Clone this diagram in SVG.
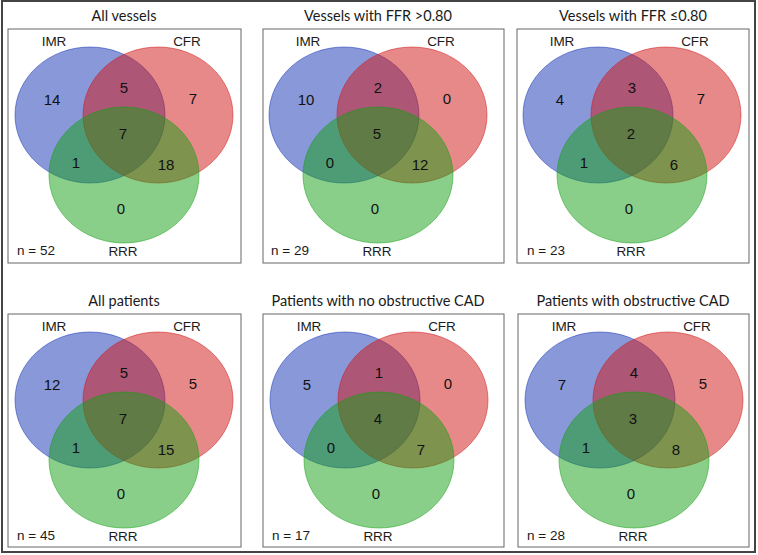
<svg xmlns="http://www.w3.org/2000/svg" width="758" height="555" viewBox="0 0 758 555">
<style>
.frame{fill:none;stroke:#444;stroke-width:2}
.box{fill:none;stroke:#666;stroke-width:1}
.title{font-family:Lato,"Liberation Sans",sans-serif;font-size:14.5px;fill:#1a1a1a;text-anchor:middle}
.lab{font-family:"Liberation Sans",Arial,sans-serif;font-size:13.5px;fill:#1a1a1a;text-anchor:middle}
.n{font-family:"Liberation Sans",Arial,sans-serif;font-size:13.5px;fill:#1a1a1a}
.num{font-family:"Liberation Sans",Arial,sans-serif;font-size:15px;fill:#111;text-anchor:middle}
.b{fill:rgb(20,50,180);fill-opacity:.5;stroke:rgb(20,50,180);stroke-opacity:.5;stroke-width:1}
.r{fill:rgb(210,20,20);fill-opacity:.5;stroke:rgb(210,20,20);stroke-opacity:.5;stroke-width:1}
.g{fill:rgb(20,160,20);fill-opacity:.5;stroke:rgb(20,160,20);stroke-opacity:.5;stroke-width:1}
</style>
<defs>
<g id="venn">
<ellipse class="b" cx="90" cy="115" rx="75" ry="68"/>
<ellipse class="r" cx="158" cy="115" rx="75" ry="68"/>
<ellipse class="g" cx="124" cy="175" rx="75" ry="68"/>
<text class="lab" x="54" y="46">IMR</text>
<text class="lab" x="187" y="46">CFR</text>
<text class="lab" x="123" y="256">RRR</text>
</g>
</defs>
<rect class="frame" x="2" y="1" width="753" height="551"/>
<g id="panel-all-vessels">
<rect class="box" x="8" y="29" width="233" height="234"/>
<text class="title" x="124" y="21">All vessels</text>
<use href="#venn"/>
<text class="num" x="52" y="105">14</text>
<text class="num" x="124" y="93">5</text>
<text class="num" x="193" y="104">7</text>
<text class="num" x="123" y="139">7</text>
<text class="num" x="76" y="168">1</text>
<text class="num" x="166" y="170">18</text>
<text class="num" x="121" y="214">0</text>
<text class="n" x="17" y="255">n = 52</text>
</g>
<g id="panel-ffr-gt" transform="translate(254,0)">
<rect class="box" x="9" y="29" width="241" height="234"/>
<text class="title" x="124" y="21">Vessels with FFR &gt;0.80</text>
<use href="#venn"/>
<text class="num" x="52" y="105">10</text>
<text class="num" x="124" y="93">2</text>
<text class="num" x="193" y="104">0</text>
<text class="num" x="123" y="139">5</text>
<text class="num" x="76" y="168">0</text>
<text class="num" x="166" y="170">12</text>
<text class="num" x="121" y="214">0</text>
<text class="n" x="17" y="255">n = 29</text>
</g>
<g id="panel-ffr-le" transform="translate(508,0)">
<rect class="box" x="9" y="29" width="232" height="234"/>
<text class="title" x="125" y="21">Vessels with FFR ≤0.80</text>
<use href="#venn"/>
<text class="num" x="52" y="105">4</text>
<text class="num" x="124" y="93">3</text>
<text class="num" x="193" y="104">7</text>
<text class="num" x="123" y="139">2</text>
<text class="num" x="76" y="168">1</text>
<text class="num" x="166" y="170">6</text>
<text class="num" x="121" y="214">0</text>
<text class="n" x="19" y="255">n = 23</text>
</g>
<g id="panel-all-patients" transform="translate(0,285)">
<rect class="box" x="8" y="29" width="233" height="233"/>
<text class="title" x="124" y="21">All patients</text>
<use href="#venn"/>
<text class="num" x="52" y="105">12</text>
<text class="num" x="124" y="93">5</text>
<text class="num" x="193" y="104">5</text>
<text class="num" x="123" y="139">7</text>
<text class="num" x="76" y="168">1</text>
<text class="num" x="166" y="170">15</text>
<text class="num" x="121" y="214">0</text>
<text class="n" x="17" y="255">n = 45</text>
</g>
<g id="panel-no-cad" transform="translate(255,285)">
<rect class="box" x="8" y="29" width="241" height="233"/>
<text class="title" x="123" y="21">Patients with no obstructive CAD</text>
<use href="#venn"/>
<text class="num" x="52" y="105">5</text>
<text class="num" x="124" y="93">1</text>
<text class="num" x="193" y="104">0</text>
<text class="num" x="123" y="139">4</text>
<text class="num" x="76" y="168">0</text>
<text class="num" x="166" y="170">7</text>
<text class="num" x="121" y="214">0</text>
<text class="n" x="17" y="255">n = 17</text>
</g>
<g id="panel-cad" transform="translate(510,285)">
<rect class="box" x="8" y="29" width="231" height="233"/>
<text class="title" x="123" y="21">Patients with obstructive CAD</text>
<use href="#venn"/>
<text class="num" x="52" y="105">7</text>
<text class="num" x="124" y="93">4</text>
<text class="num" x="193" y="104">5</text>
<text class="num" x="123" y="139">3</text>
<text class="num" x="76" y="168">1</text>
<text class="num" x="166" y="170">8</text>
<text class="num" x="121" y="214">0</text>
<text class="n" x="17" y="255">n = 28</text>
</g>
<g id="connectors"/>
</svg>
